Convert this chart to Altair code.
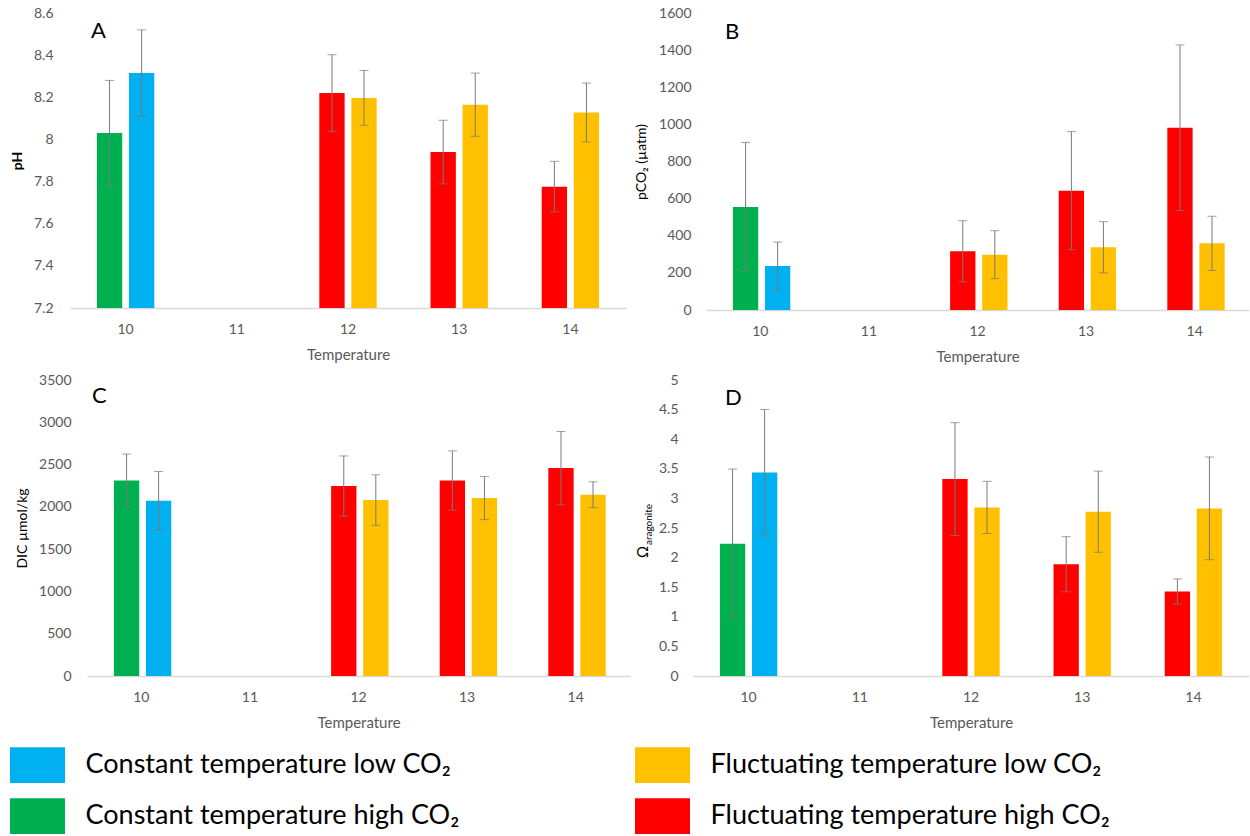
import altair as alt
import pandas as pd

# ---------------- data ----------------
temps = ["10", "11", "12", "13", "14"]

LOW_C = "Constant temperature low CO₂"
HIGH_C = "Constant temperature high CO₂"
LOW_F = "Fluctuating temperature low CO₂"
HIGH_F = "Fluctuating temperature high CO₂"

series_order = [LOW_C, LOW_F, HIGH_C, HIGH_F]
series_colors = ["#00B0F0", "#FFC000", "#00B050", "#FF0000"]
legend_col = [0, 1, 0, 1]
legend_row = [0, 0, 1, 1]

bar_temp = ["10", "10", "12", "12", "13", "13", "14", "14"]
bar_side = ["left", "right", "left", "right", "left", "right", "left", "right"]
bar_series = [HIGH_C, LOW_C, HIGH_F, LOW_F, HIGH_F, LOW_F, HIGH_F, LOW_F]

ph_mean = [8.03, 8.315, 8.22, 8.197, 7.94, 8.165, 7.776, 8.128]
ph_err = [0.25, 0.205, 0.182, 0.13, 0.151, 0.15, 0.12, 0.14]

pco2_mean = [555, 237, 316, 298, 643, 338, 982, 359]
pco2_err = [348, 129, 165, 129, 318, 138, 446, 146]

dic_mean = [2312, 2073, 2246, 2080, 2312, 2104, 2458, 2143]
dic_err = [313, 346, 356, 299, 350, 254, 433, 153]

omega_mean = [2.236, 3.438, 3.326, 2.848, 1.888, 2.775, 1.427, 2.831]
omega_err = [1.26, 1.065, 0.953, 0.441, 0.466, 0.685, 0.213, 0.868]

FONT = "Lato"
EC = "#7a7a7a"
color_scale = alt.Scale(domain=series_order, range=series_colors)


def panel(letter, mean, err, y_title, y_dom, y_vals, fmt, w, h, x_range,
          lab_pad, ext, t_pad, po, letter_x, letter_y, y_offset=0,
          title_weight="normal"):
    df = pd.DataFrame({
        "temp": bar_temp,
        "side": bar_side,
        "series": bar_series,
        "mean": mean,
        "lo": [m - e for m, e in zip(mean, err)],
        "hi": [m + e for m, e in zip(mean, err)],
    })
    x_axis = alt.Axis(title="Temperature", labelAngle=0, ticks=False, tickSize=0,
                      domainColor="#d9d9d9", domainWidth=1.3, labelPadding=14,
                      titlePadding=11, labelFont=FONT, labelFontSize=14,
                      labelColor="#595959", titleFont=FONT, titleFontSize=15,
                      titleColor="#595959", titleFontWeight="normal")
    y_axis_kw = dict(values=y_vals, format=fmt, grid=False, domain=False, ticks=False,
                     tickSize=0, labelPadding=lab_pad, minExtent=ext, maxExtent=ext,
                     labelFont=FONT, labelFontSize=14, labelColor="#595959",
                     labelFlush=False, offset=y_offset)
    if y_title is None:
        y_axis = alt.Axis(title=None, **y_axis_kw)
    else:
        y_axis = alt.Axis(title=y_title, titlePadding=t_pad, titleFont=FONT,
                          titleFontSize=14, titleColor="#000000",
                          titleFontWeight=title_weight, **y_axis_kw)
    x_enc = alt.X("temp:N", scale=alt.Scale(domain=temps, range=x_range,
                                            paddingInner=0, paddingOuter=0),
                  axis=x_axis)
    off = alt.XOffset("side:N", scale=alt.Scale(domain=["left", "right"],
                                               paddingInner=0.21, paddingOuter=po))
    y_scale = alt.Scale(domain=y_dom, zero=False, nice=False)
    base = alt.Chart(df)
    bars = base.mark_bar().encode(
        x=x_enc, xOffset=off,
        y=alt.Y("mean:Q", scale=y_scale, axis=y_axis),
        y2=alt.datum(y_dom[0]),
        color=alt.Color("series:N", scale=color_scale, legend=None),
    )
    rules = base.mark_rule(color=EC, strokeWidth=1).encode(
        x=x_enc, xOffset=off,
        y=alt.Y("lo:Q", scale=y_scale, axis=y_axis), y2="hi:Q",
    )
    cap_hi = base.mark_tick(color=EC, orient="horizontal", size=9, thickness=1).encode(
        x=x_enc, xOffset=off, y=alt.Y("hi:Q", scale=y_scale, axis=y_axis))
    cap_lo = base.mark_tick(color=EC, orient="horizontal", size=9, thickness=1).encode(
        x=x_enc, xOffset=off, y=alt.Y("lo:Q", scale=y_scale, axis=y_axis))
    lab = alt.Chart(pd.DataFrame({"t": [letter]})).mark_text(
        font=FONT, fontSize=22, color="#000000", align="left", baseline="alphabetic"
    ).encode(x=alt.value(letter_x), y=alt.value(letter_y), text="t:N")
    return alt.layer(bars, rules, cap_hi, cap_lo, lab).properties(width=w, height=h)


pa = panel("A", ph_mean, ph_err, "pH", [7.2, 8.6],
           [7.2, 7.4, 7.6, 7.8, 8.0, 8.2, 8.4, 8.6], ".1~f",
           556, 295, [0, 556], 17, 37, 9, 0.84, 21, 25, title_weight="bold")
pb = panel("B", pco2_mean, pco2_err, "pCO₂ (µatm)", [0, 1600],
           [0, 200, 400, 600, 800, 1000, 1200, 1400, 1600], "d",
           543, 297, [0, 543], 15, 43, 15, 0.86, 19, 26)
pc = panel("C", dic_mean, dic_err, "DIC µmol/kg", [0, 3500],
           [0, 500, 1000, 1500, 2000, 2500, 3000, 3500], "d",
           560, 296, [17, 560], 16, 45, 13, 0.86, 22, 23, y_offset=-17)
pd_ = panel("D", omega_mean, omega_err, None, [0, 5],
            [0, 0.5, 1, 1.5, 2, 2.5, 3, 3.5, 4, 4.5, 5], ".1~f",
            556, 296, [0, 556], 15, 33, 0, 0.84, 32, 25)

omega_title = alt.Chart(pd.DataFrame({"t": ["Ω"]})).mark_text(
    font=FONT, fontSize=15, color="#000000", angle=270, align="center", baseline="middle"
).encode(x=alt.value(-50), y=alt.value(172), text="t:N")
omega_sub = alt.Chart(pd.DataFrame({"t": ["aragonite"]})).mark_text(
    font=FONT, fontSize=10, color="#000000", angle=270, align="left", baseline="middle"
).encode(x=alt.value(-44), y=alt.value(165), text="t:N")
pd_ = alt.layer(pd_, omega_title, omega_sub)

row1 = alt.hconcat(pa, pb, spacing=80, bounds="flush")
row2 = alt.hconcat(pc, pd_, spacing=63, bounds="flush")

leg_df = pd.DataFrame({"series": series_order, "col": legend_col, "row": legend_row})
leg_x = alt.X("col:Q", scale=alt.Scale(domain=[0, 1], range=[-32.5, 592.5]), axis=None)
leg_y = alt.Y("row:Q", scale=alt.Scale(domain=[0, 1], range=[26, 77]), axis=None)
leg_sq = alt.Chart(leg_df).mark_point(
    shape="M-1,-0.65L1,-0.65L1,0.65L-1,0.65Z", filled=True, size=3025, opacity=1, strokeWidth=0
).encode(x=leg_x, y=leg_y, color=alt.Color("series:N", scale=color_scale, legend=None))
leg_tx = alt.Chart(leg_df).mark_text(
    font=FONT, fontSize=27, color="#000000", align="left", baseline="middle", dx=48
).encode(x=leg_x, y=leg_y, text="series:N")
legend = alt.layer(leg_sq, leg_tx).properties(width=1050, height=95)

chart = alt.vconcat(row1, row2, legend, spacing=9).properties(
    padding={"left": 10, "top": 6, "right": 0, "bottom": 0},
    background="white",
).configure(font=FONT, view=alt.ViewConfig(stroke="transparent", strokeWidth=0))

chart.save("out.html", embed_options={"renderer": "svg", "actions": False})
